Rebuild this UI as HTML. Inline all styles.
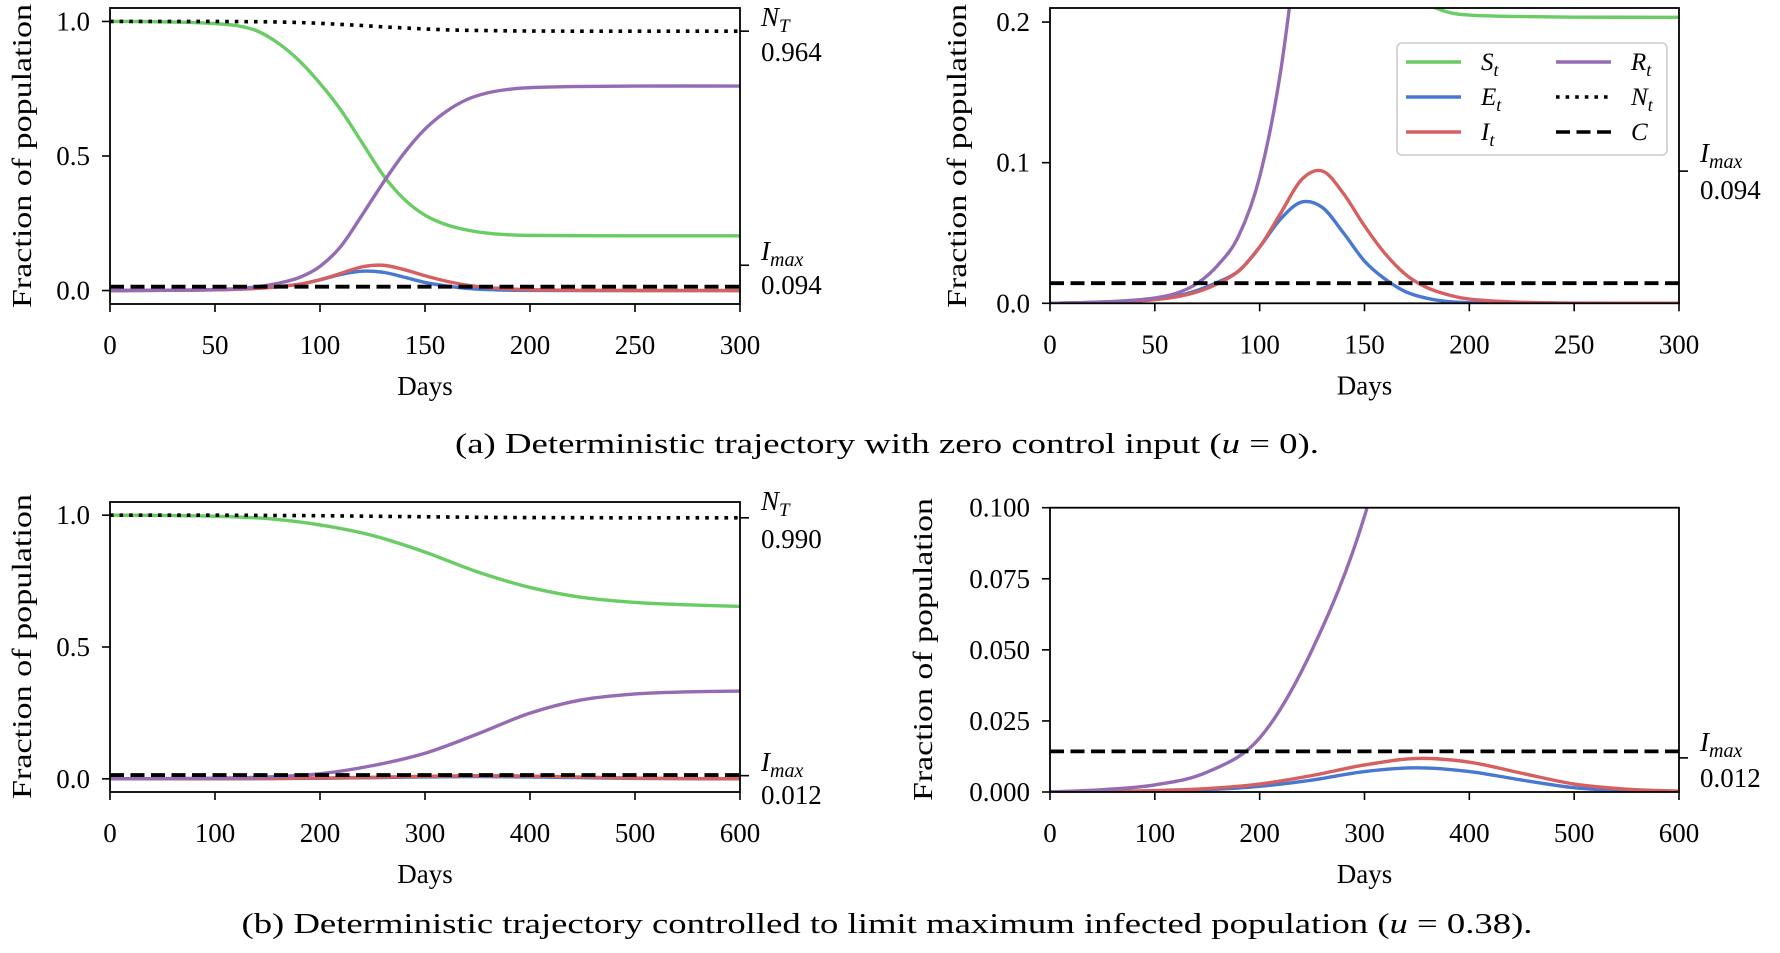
<!DOCTYPE html>
<html><head><meta charset="utf-8"><style>
body{margin:0;background:#fff}
svg{display:block}
text{font-family:"Liberation Serif",serif;fill:#000}
</style></head><body>
<svg id="fig" width="1780" height="953" viewBox="0 0 1780 953" xmlns="http://www.w3.org/2000/svg">
<defs>
<clipPath id="cA1"><rect x="110" y="8" width="630" height="296"/></clipPath>
<clipPath id="cA2"><rect x="1050" y="8" width="629" height="295.3"/></clipPath>
<clipPath id="cB1"><rect x="110" y="502" width="630" height="290"/></clipPath>
<clipPath id="cB2"><rect x="1050" y="507.7" width="629" height="284.3"/></clipPath>
</defs>
<g id="root"></g>
<text x="887" y="453" font-size="28" text-anchor="middle" textLength="864" lengthAdjust="spacingAndGlyphs">(a) Deterministic trajectory with zero control input (<tspan font-style="italic">u</tspan> = 0).</text>
<text x="887" y="933" font-size="28" text-anchor="middle" textLength="1291" lengthAdjust="spacingAndGlyphs">(b) Deterministic trajectory controlled to limit maximum infected population (<tspan font-style="italic">u</tspan> = 0.38).</text>
</svg>
<script>
const daysA=[0,10,20,30,40,50,60,70,80,90,100,110,120,130,140,150,160,170,180,190,200,220,250,300];
const sA=[1,1,0.999,0.998,0.996,0.992,0.985,0.965,0.92,0.855,0.77,0.67,0.55,0.43,0.34,0.28,0.245,0.225,0.213,0.207,0.205,0.204,0.2035,0.2034];
const eA=[0,0.0003,0.0006,0.001,0.0018,0.003,0.005,0.009,0.015,0.023,0.04,0.06,0.072,0.068,0.05,0.03,0.017,0.008,0.0035,0.0012,0.0004,0.0001,0,0];
const iA=[0,0.0002,0.0005,0.0009,0.0015,0.0026,0.0045,0.008,0.014,0.023,0.04,0.064,0.088,0.094,0.078,0.055,0.035,0.02,0.011,0.006,0.003,0.001,0.0002,0];
const rA=[0,0.0003,0.0007,0.0013,0.0022,0.0038,0.007,0.014,0.027,0.048,0.09,0.165,0.28,0.40,0.51,0.60,0.665,0.71,0.735,0.748,0.754,0.758,0.76,0.76];
const nA=[1,1,1,1,1,1,0.9995,0.999,0.998,0.996,0.993,0.989,0.985,0.98,0.976,0.972,0.969,0.967,0.966,0.965,0.9645,0.964,0.964,0.964];
const cA=0.0143;
const daysB=[0,50,100,150,200,250,300,350,400,450,500,550,600];
const sB=[1,0.999,0.996,0.987,0.963,0.923,0.86,0.785,0.726,0.688,0.669,0.66,0.654];
const eB=[0,0.0001,0.0003,0.0008,0.002,0.0042,0.0072,0.0085,0.0072,0.0042,0.0015,0.0004,0.0001];
const iB=[0,0.0002,0.0005,0.0012,0.0028,0.0058,0.0095,0.0118,0.0105,0.0066,0.0028,0.001,0.0003];
const rB=[0,0.0008,0.0025,0.007,0.019,0.05,0.097,0.17,0.249,0.3,0.322,0.33,0.333];
const nB=[1,1,1,0.999,0.998,0.996,0.994,0.992,0.991,0.9905,0.990,0.990,0.990];
const cB=0.0143;
const ticksXA=[0,50,100,150,200,250,300];
const ticksXB=[0,100,200,300,400,500,600];
const ticksYFull=[0,0.5,1.0];
const tickLabelsYFull=["0.0","0.5","1.0"];
const ticksYA2=[0,0.1,0.2];
const tickLabelsYA2=["0.0","0.1","0.2"];
const ticksYB2=[0,0.025,0.05,0.075,0.1];
const tickLabelsYB2=["0.000","0.025","0.050","0.075","0.100"];
const imaxA=0.094, ntA=0.964, imaxB=0.012, ntB=0.990;
const imaxLabelA="0.094", ntLabelA="0.964", imaxLabelB="0.012", ntLabelB="0.990";

const COL={S:"#6acc64",E:"#4878d0",I:"#d65f5f",R:"#956cb4"};
const NS="http://www.w3.org/2000/svg";
const root=document.getElementById('root');
function mk(tag,attrs,parent){const e=document.createElementNS(NS,tag);for(const k in attrs)e.setAttribute(k,attrs[k]);(parent||root).appendChild(e);return e;}
function smooth(pts){
  let d="M"+pts[0][0].toFixed(2)+","+pts[0][1].toFixed(2);
  for(let i=0;i<pts.length-1;i++){
    const p0=pts[i-1]||pts[i],p1=pts[i],p2=pts[i+1],p3=pts[i+2]||p2;
    const c1=[p1[0]+(p2[0]-p0[0])/6,p1[1]+(p2[1]-p0[1])/6];
    const c2=[p2[0]-(p3[0]-p1[0])/6,p2[1]-(p3[1]-p1[1])/6];
    d+="C"+c1[0].toFixed(2)+","+c1[1].toFixed(2)+" "+c2[0].toFixed(2)+","+c2[1].toFixed(2)+" "+p2[0].toFixed(2)+","+p2[1].toFixed(2);
  }
  return d;
}
function panel(cfg){
  const g=mk('g',{});
  
  
  const X=v=>cfg.x0+(v-cfg.dx[0])/(cfg.dx[1]-cfg.dx[0])*(cfg.x1-cfg.x0);
  const Y=v=>cfg.yb-(v-cfg.dy[0])/(cfg.dy[1]-cfg.dy[0])*(cfg.yb-cfg.yt);
  const sg=mk('g',{'clip-path':'url(#'+cfg.clip+')'},g);
  const series=[["S",cfg.s],["E",cfg.e],["I",cfg.i],["R",cfg.r]];
  series.forEach(([k,arr])=>{
    const p=mk('path',{d:smooth(cfg.days.map((d,j)=>[X(d),Y(arr[j])])),fill:'none',stroke:COL[k],'stroke-width':3.4,'stroke-linecap':'butt'},sg);
    
    
  });
  const np=mk('path',{d:smooth(cfg.days.map((d,j)=>[X(d),Y(cfg.n[j])])),fill:'none',stroke:'#000','stroke-width':3.6,'stroke-dasharray':'3.6 6'},sg);
  
  
  const cl=mk('line',{x1:X(cfg.dx[0]),x2:X(cfg.dx[1]),y1:Y(cfg.c),y2:Y(cfg.c),stroke:'#000','stroke-width':3.8,'stroke-dasharray':'14 6.5'},sg);
  
  
  const fr=mk('rect',{x:cfg.x0,y:cfg.yt,width:cfg.x1-cfg.x0,height:cfg.yb-cfg.yt,fill:'none',stroke:'#000','stroke-width':1.8},g);
  
  
  cfg.tx.forEach(t=>{
    mk('line',{x1:X(t),x2:X(t),y1:cfg.yb,y2:cfg.yb+8,stroke:'#000','stroke-width':1.6},g);
    const tl=mk('text',{x:X(t),y:cfg.yb+50,'font-size':27,'text-anchor':'middle'},g);
    tl.textContent=String(t);
    
    
  });
  cfg.ty.forEach((t,j)=>{
    mk('line',{x1:cfg.x0-8,x2:cfg.x0,y1:Y(t),y2:Y(t),stroke:'#000','stroke-width':1.6},g);
    const tl=mk('text',{x:cfg.x0-20,y:Y(t)+9,'font-size':27,'text-anchor':'end'},g);
    tl.textContent=cfg.tyl[j];
    
    
  });
  const xt=mk('text',{x:(cfg.x0+cfg.x1)/2,y:cfg.yb+91,'font-size':27,'text-anchor':'middle'},g);
  xt.textContent="Days";
  
  
  const yc=(cfg.ylab[0]+cfg.ylab[1])/2;
  const yt=mk('text',{x:0,y:0,'font-size':27,'text-anchor':'middle',transform:'translate('+(cfg.ylx)+','+yc+') rotate(-90)',textLength:cfg.ylab[1]-cfg.ylab[0],lengthAdjust:'spacingAndGlyphs'},g);
  yt.textContent="Fraction of population";
  
  
  cfg.ann.forEach(a=>{
    mk('line',{x1:cfg.x1,x2:cfg.x1+9,y1:Y(a.v),y2:Y(a.v),stroke:'#000','stroke-width':1.6},g);
    const t1=mk('text',{x:cfg.x1+21,y:a.y1,'font-size':27},g);
    if(a.kind==='N'){t1.innerHTML='<tspan font-style="italic">N</tspan><tspan font-style="italic" font-size="19" dy="6">T</tspan>';}
    else{t1.innerHTML='<tspan font-style="italic">I</tspan><tspan font-style="italic" font-size="20" dy="6">max</tspan>';}
    
    
    const t2=mk('text',{x:cfg.x1+21,y:a.y2,'font-size':27},g);
    t2.textContent=a.label;
    
    
  });
  return g;
}
panel({name:'panel-a-full',clip:'cA1',x0:110,x1:740,yt:8,yb:304,dx:[0,300],dy:[-0.05,1.05],days:daysA,s:sA,e:eA,i:iA,r:rA,n:nA,c:cA,tx:ticksXA,ty:ticksYFull,tyl:tickLabelsYFull,ylx:31,ylab:[4,308],
  ann:[{kind:'N',v:ntA,y1:26,y2:61,label:ntLabelA},{kind:'I',v:imaxA,y1:260,y2:294,label:imaxLabelA}]});
panel({name:'panel-a-zoom',clip:'cA2',x0:1050,x1:1679,yt:8,yb:303.3,dx:[0,300],dy:[0,0.21],days:daysA,s:sA,e:eA,i:iA,r:rA,n:nA,c:cA,tx:ticksXA,ty:ticksYA2,tyl:tickLabelsYA2,ylx:966,ylab:[4,308],
  ann:[{kind:'I',v:imaxA,y1:162,y2:199,label:imaxLabelA}]});
panel({name:'panel-b-full',clip:'cB1',x0:110,x1:740,yt:502,yb:792,dx:[0,600],dy:[-0.05,1.05],days:daysB,s:sB,e:eB,i:iB,r:rB,n:nB,c:cB,tx:ticksXB,ty:ticksYFull,tyl:tickLabelsYFull,ylx:31,ylab:[494,799],
  ann:[{kind:'N',v:ntB,y1:510,y2:548,label:ntLabelB},{kind:'I',v:imaxB,y1:771,y2:804,label:imaxLabelB}]});
panel({name:'panel-b-zoom',clip:'cB2',x0:1050,x1:1679,yt:507.7,yb:792,dx:[0,600],dy:[0,0.1],days:daysB,s:sB,e:eB,i:iB,r:rB,n:nB,c:cB,tx:ticksXB,ty:ticksYB2,tyl:tickLabelsYB2,ylx:932,ylab:[498,801],
  ann:[{kind:'I',v:imaxB,y1:751,y2:787,label:imaxLabelB}]});

// legend
const lg=mk('g',{});


mk('rect',{x:1397,y:43,width:270,height:112,rx:5,fill:'#fff','fill-opacity':0.85,stroke:'#cccccc','stroke-width':1.6},lg);
const legItems=[
 {x:1406,y:62,stroke:COL.S,dash:null,lab:'S'},
 {x:1406,y:97,stroke:COL.E,dash:null,lab:'E'},
 {x:1406,y:132,stroke:COL.I,dash:null,lab:'I'},
 {x:1556,y:62,stroke:COL.R,dash:null,lab:'R'},
 {x:1556,y:97,stroke:'#000',dash:'3.6 6',lab:'N'},
 {x:1556,y:132,stroke:'#000',dash:'14 6.5',lab:'C'}];
legItems.forEach(it=>{
  const e=mk('g',{},lg);
  
  
  const a={x1:it.x,x2:it.x+55,y1:it.y,y2:it.y,stroke:it.stroke,'stroke-width':3.6};
  if(it.dash)a['stroke-dasharray']=it.dash;
  mk('line',a,e);
  const t=mk('text',{x:it.x+75,y:it.y+8,'font-size':25},e);
  t.innerHTML='<tspan font-style="italic">'+it.lab+'</tspan>'+(it.lab==='C'?'':'<tspan font-style="italic" font-size="18" dy="6">t</tspan>');
});
</script>
</body></html>
